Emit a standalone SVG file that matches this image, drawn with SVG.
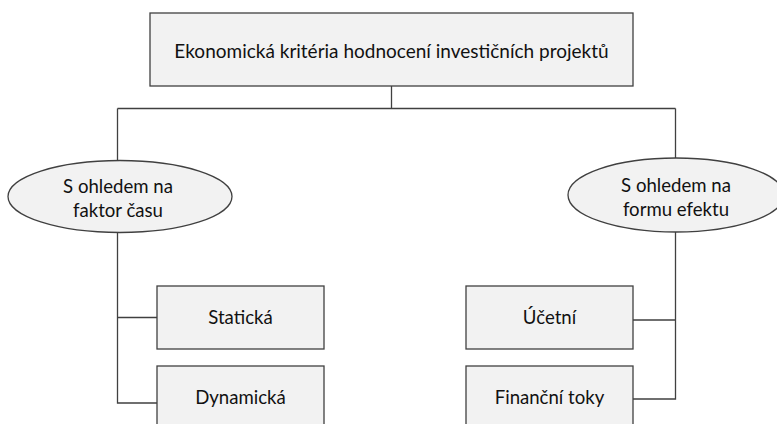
<svg xmlns="http://www.w3.org/2000/svg" width="777" height="424" viewBox="0 0 777 424">
<style>
.box{fill:#f2f2f2;stroke:#404040;stroke-width:1.3}
.t{font-family:Lato,"Liberation Sans",sans-serif;font-size:18.6px;fill:#111;text-anchor:middle}
.c{fill:none;stroke:#404040;stroke-width:1.3}
</style>
<rect width="777" height="424" fill="#fff"/>
<g id="connectors">
<path class="c" d="M391.5 86V108.5M117.5 108.5H675.5M117.5 108.5V161M675.5 108.5V158"/>
<path class="c" d="M117.5 232V403H157M117.5 317.5H157"/>
<path class="c" d="M675.5 232V399H633M675.5 320H633"/>
</g>
<g id="root">
<rect class="box" x="150" y="13" width="483" height="73"/>
<text class="t" x="391.5" y="58" style="font-size:19px">Ekonomická kritéria hodnocení investičních projektů</text>
</g>
<g id="cas">
<ellipse class="box" cx="120" cy="196.5" rx="112" ry="36"/>
<text class="t" x="118" y="193">S ohledem na</text>
<text class="t" x="118" y="217">faktor času</text>
</g>
<g id="efekt">
<ellipse class="box" cx="676" cy="195" rx="108" ry="37"/>
<text class="t" x="676" y="192">S ohledem na</text>
<text class="t" x="676" y="216">formu efektu</text>
</g>
<g id="staticka">
<rect class="box" x="157" y="286" width="167" height="63"/>
<text class="t" x="240.5" y="324">Statická</text>
</g>
<g id="dynamicka">
<rect class="box" x="157" y="366" width="167" height="63"/>
<text class="t" x="240.5" y="404">Dynamická</text>
</g>
<g id="ucetni">
<rect class="box" x="466" y="286" width="167" height="63"/>
<text class="t" x="549.5" y="324">Účetní</text>
</g>
<g id="financni">
<rect class="box" x="466" y="366" width="167" height="63"/>
<text class="t" x="549.5" y="404">Finanční toky</text>
</g>
</svg>
